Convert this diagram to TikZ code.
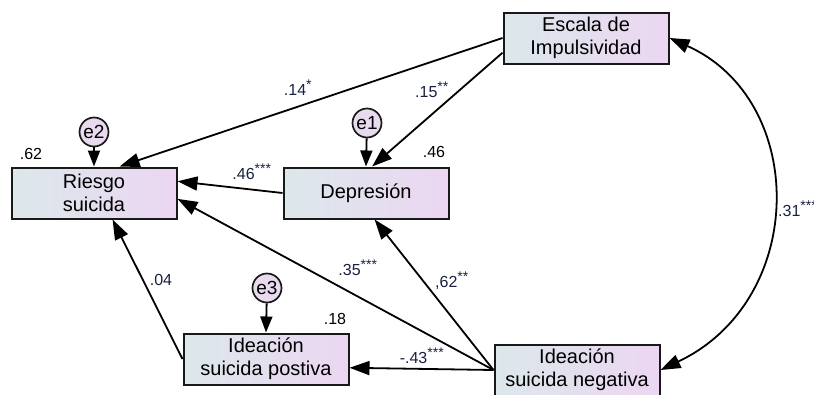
\documentclass[tikz,border=0pt]{standalone}
\usepackage{fontspec}
\setmainfont{Liberation Sans}
\usepackage{tikz}
\usetikzlibrary{arrows.meta,positioning}
\definecolor{boxleft}{RGB}{220,232,235}
\definecolor{boxright}{RGB}{236,214,242}
\definecolor{errfill}{RGB}{234,218,240}
\definecolor{coefblue}{RGB}{25,32,65}
\newcommand{\signif}[1]{\textsuperscript{\fontsize{14}{14}\selectfont #1}}

\begin{document}
\begin{tikzpicture}[
        x=1pt, y=-1pt,
        obsvar/.style={
                draw=black!90,
                line width=2pt,
                minimum width=165pt,
                minimum height=51pt,
                inner sep=0pt,
                align=center,
                left color=boxleft,
                right color=boxright,
                font=\fontsize{20}{23}\selectfont
            },
        errterm/.style={
                circle,
                draw=black!90,
                line width=1.7pt,
                fill=errfill,
                minimum size=29pt,
                inner sep=0pt,
                font=\fontsize{19}{19}\selectfont
            },
        regpath/.style={
                draw=black,
                line width=1.8pt,
                -{Triangle[length=20pt,width=14pt]}
            },
        errpath/.style={
                draw=black,
                line width=1.8pt,
                -{Triangle[length=16pt,width=12pt]}
            },
        coef/.style={
                text=coefblue,
                inner sep=0pt,
                font=\fontsize{16}{16}\selectfont
            },
        rsq/.style={
                inner sep=0pt,
                font=\fontsize{16}{16}\selectfont
            }
    ]
    \useasboundingbox (0,0) rectangle (814,394);
    % observed variables
    \node[obsvar] (rie) at (94,193) {Riesgo\\suicida};
    \node[obsvar] (dep) at (366,193) {Depresión};
    \node[obsvar] (esc) at (586,38) {Escala de\\Impulsividad};
    \node[obsvar] (pos) at (266,359) {Ideación\\suicida postiva};
    \node[obsvar] (neg) at (577,370) {Ideación\\suicida negativa};
    % error terms
    \node[errterm] (e2) at (94,132) {e2};
    \node[errterm] (e1) at (367,123) {e1};
    \node[errterm] (e3) at (267,288) {e3};
    \draw[errpath] (e2) -- (rie.north);
    \draw[errpath] (e1) -- (dep.north);
    \draw[errpath] (e3) -- (pos.north);
    % paths
    \draw[regpath] (esc.west) -- (rie.46);
    \draw[regpath] (esc.190) -- (dep.77);
    \draw[regpath] (dep.west) -- (rie.8);
    \draw[regpath] (neg.west) -- (rie.-4);
    \draw[regpath] (neg.west) -- (dep.-72);
    \draw[regpath] (neg.west) -- (pos.-6);
    \draw[regpath] (pos.west) -- (rie.-55);
    \draw[regpath, {Triangle[length=20pt,width=14pt]}-{Triangle[length=20pt,width=14pt]}]
        (esc.east) .. controls (808,100) and (808,300) .. (neg.east);
    % estimates
    \node[rsq] (r2rie) at (31,154) {.62};
    \node[rsq] (r2dep) at (434,152) {.46};
    \node[rsq] (r2pos) at (335,319) {.18};
    \node[coef] (c1) at (298,88) {.14\signif{*}};
    \node[coef] (c2) at (432,90) {.15\signif{**}};
    \node[coef] (c3) at (252,172) {.46\signif{***}};
    \node[coef] (c4) at (358,268) {.35\signif{***}};
    \node[coef] (c5) at (452,281) {,62\signif{**}};
    \node[coef] (c6) at (422,356) {-.43\signif{***}};
    \node[coef] (c7) at (161,280) {.04};
    \node[coef, anchor=west] (c8) at (778,209) {.31\signif{***}};
\end{tikzpicture}
\end{document}
